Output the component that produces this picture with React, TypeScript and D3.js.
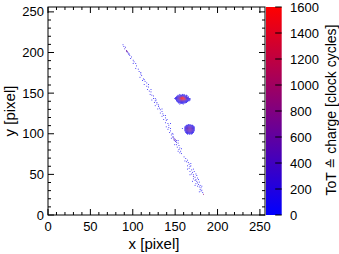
import React from "react";
import * as d3 from "d3";

const X_DOMAIN: [number, number] = [0, 256];
const Y_DOMAIN: [number, number] = [0, 256];
const Z_DOMAIN: [number, number] = [0, 1600];
const X_TICKS = [0, 50, 100, 150, 200, 250];
const Y_TICKS = [0, 50, 100, 150, 200, 250];
const Z_TICKS = [0, 200, 400, 600, 800, 1000, 1200, 1400, 1600];

// [x, y, ToT] of single hit pixels along the track
const TRACK_HITS: [number, number, number][] = [
  [88, 209, 120], [89, 207, 80], [91, 206, 150], [90, 204, 300], [92, 202, 500], [92, 201, 700],
  [93, 201, 600], [93, 200, 400], [94, 199, 200], [95, 198, 120], [96, 196, 150], [98, 194, 100],
  [97, 192, 90], [100, 190, 130], [101, 188, 80], [100, 186, 110], [104, 183, 60], [103, 180, 90],
  [106, 179, 100], [107, 176, 70], [109, 175, 80], [110, 171, 120], [108, 169, 60], [112, 167, 90],
  [114, 164, 70], [113, 160, 100], [116, 158, 130], [118, 157, 80], [117, 154, 60], [119, 152, 150],
  [121, 151, 90], [120, 148, 70], [122, 147, 110], [124, 146, 140], [124, 143, 90], [122, 141, 60],
  [126, 140, 120], [125, 138, 80], [128, 138, 100], [128, 136, 150], [126, 134, 70], [130, 133, 110],
  [131, 131, 90], [129, 130, 60], [132, 129, 130], [134, 127, 80], [132, 125, 100], [135, 124, 70],
  [136, 122, 120], [134, 121, 90], [138, 119, 60], [136, 117, 140], [139, 116, 80], [138, 113, 100],
  [141, 112, 70], [139, 108, 90], [142, 107, 130], [141, 105, 80], [144, 103, 100], [143, 101, 60],
  [146, 100, 120], [145, 98, 150], [147, 96, 90], [147, 95, 250], [148, 94, 300], [148, 92, 400],
  [149, 93, 350], [149, 91, 280], [150, 92, 450], [150, 90, 200], [151, 89, 150], [151, 91, 220],
  [153, 88, 100], [151, 86, 130], [154, 85, 90], [152, 83, 110], [155, 82, 70], [154, 80, 140],
  [156, 78, 80], [155, 76, 100], [157, 75, 60],
  [162, 69, 80], [164, 67, 100], [163, 65, 120], [165, 64, 90], [166, 62, 150], [164, 60, 70],
  [167, 59, 110], [166, 57, 90], [169, 55, 130], [167, 53, 80], [170, 52, 100], [169, 50, 200],
  [171, 49, 150], [171, 47, 250], [173, 46, 180], [171, 44, 120], [174, 43, 90], [173, 42, 160],
  [175, 41, 110], [176, 39, 140], [174, 38, 90], [177, 37, 120], [176, 35, 100], [178, 34, 80],
  [180, 33, 130], [179, 31, 90], [181, 30, 110], [180, 29, 70], [182, 27, 60], [183, 25, 900],
  [95, 197, 60], [103, 186, 70], [109, 173, 50], [113, 166, 60], [118, 160, 40], [121, 154, 50],
  [126, 143, 60], [130, 135, 50], [134, 130, 40], [138, 122, 60], [142, 110, 50], [144, 106, 40],
  [147, 99, 70], [145, 94, 60], [153, 91, 80], [149, 86, 60], [157, 81, 50], [153, 78, 40],
  [160, 71, 50], [161, 66, 60], [168, 63, 40], [164, 56, 50], [171, 56, 60], [167, 49, 40],
  [174, 50, 50], [170, 41, 60], [176, 45, 40], [178, 40, 50], [173, 36, 60], [181, 35, 40],
  [178, 28, 50], [158, 106, 40], [144, 112, 30], [111, 165, 50], [127, 141, 40], [140, 117, 50],
  [168, 60, 60], [172, 53, 50], [175, 48, 40], [177, 43, 60], [179, 36, 50], [116, 162, 40],
];

// ToT value for each digit level in the cluster maps
const LEVELS = [0, 120, 250, 380, 520, 680, 850, 1050, 1280, 1500];

// cluster maps: origin = [x of first column, y of first row], rows go downwards in y
const CLUSTER_A_ORIGIN: [number, number] = [149, 148];
const CLUSTER_A_ROWS = [
  "......1..1.1........",
  "....1.1111111.1.....",
  "...1122222221211....",
  "..1223345664322.1...",
  ".1123457899753221...",
  "1122346899997532211.",
  ".122345789998642211.",
  "..12234567765432111.",
  "..1122334443322111..",
  "...1122232222111....",
  "....11121111211.....",
  ".....1.1111.1.......",
  "......1...1.........",
];

const CLUSTER_B_ORIGIN: [number, number] = [161, 111];
const CLUSTER_B_ROWS = [
  "....1.1.....",
  "..11111111..",
  ".1122222211.",
  "112233332211",
  "122334433221",
  "123344443321",
  "123344443321",
  "123344443321",
  "122334433221",
  ".1223333221.",
  ".1122222211.",
  "..11111111..",
  "...1.11.1...",
];

const FONT = "'Liberation Sans', Arial, Helvetica, sans-serif";

function gridHits(origin: [number, number], rows: string[]): [number, number, number][] {
  const out: [number, number, number][] = [];
  rows.forEach((row, i) => {
    for (let j = 0; j < row.length; j++) {
      const c = row[j];
      if (c !== "." && c !== " ") out.push([origin[0] + j, origin[1] - i, LEVELS[+c]]);
    }
  });
  return out;
}

export default function App() {
  const W = 339, H = 254;
  const x = d3.scaleLinear().domain(X_DOMAIN).range([48, 265]);
  const y = d3.scaleLinear().domain(Y_DOMAIN).range([215, 7]);
  const z = d3.scaleLinear().domain(Z_DOMAIN).range([215, 7]);
  const color = d3.scaleLinear<string>().domain(Z_DOMAIN).range(["rgb(0,0,255)", "rgb(255,0,0)"]).interpolate(d3.interpolateRgb).clamp(true);

  const hits = [...TRACK_HITS, ...gridHits(CLUSTER_A_ORIGIN, CLUSTER_A_ROWS), ...gridHits(CLUSTER_B_ORIGIN, CLUSTER_B_ROWS)];

  const [x0, x1] = x.range();
  const [y0, y1] = y.range();
  const minor = d3.range(0, 257, 10).filter((v) => v % 50 !== 0);
  const MAJ = 6, MIN = 3;
  const cbL = 266, cbR = 281.7;

  return (
    <svg width={W} height={H} style={{ position: "absolute", left: 0, top: 0, background: "#fff" }} fontFamily={FONT}>
      <defs>
        <linearGradient id="zgrad" x1="0" y1="1" x2="0" y2="0">
          <stop offset="0" stopColor={color(Z_DOMAIN[0])} />
          <stop offset="0.5" stopColor={color((Z_DOMAIN[0] + Z_DOMAIN[1]) / 2)} />
          <stop offset="1" stopColor={color(Z_DOMAIN[1])} />
        </linearGradient>
      </defs>
      <rect width={W} height={H} fill="#fff" />
      {/* hits */}
      <g>
        {hits.map(([hx, hy, t], i) => (
          <rect key={i} x={x(hx)} y={y(hy + 1)} width={x(hx + 1) - x(hx)} height={y(hy) - y(hy + 1)} fill={color(t)} />
        ))}
      </g>
      {/* frame */}
      <rect x={x0} y={y1} width={x1 - x0} height={y0 - y1} fill="none" stroke="#000" strokeWidth={1} />
      {/* ticks */}
      <g stroke="#000" strokeWidth={1}>
        {X_TICKS.map((v) => (
          <g key={"xt" + v}>
            <line x1={x(v)} x2={x(v)} y1={y0} y2={y0 - MAJ} />
            <line x1={x(v)} x2={x(v)} y1={y1} y2={y1 + MAJ} />
          </g>
        ))}
        {minor.map((v) => (
          <g key={"xm" + v}>
            <line x1={x(v)} x2={x(v)} y1={y0} y2={y0 - MIN} />
            <line x1={x(v)} x2={x(v)} y1={y1} y2={y1 + MIN} />
            <line x1={x0} x2={x0 + MIN} y1={y(v)} y2={y(v)} />
            <line x1={x1} x2={x1 - MIN} y1={y(v)} y2={y(v)} />
          </g>
        ))}
        {Y_TICKS.map((v) => (
          <g key={"yt" + v}>
            <line x1={x0} x2={x0 + MAJ} y1={y(v)} y2={y(v)} />
            <line x1={x1} x2={x1 - MAJ} y1={y(v)} y2={y(v)} />
          </g>
        ))}
      </g>
      {/* tick labels */}
      <g fontSize={13} fill="#000">
        {X_TICKS.map((v) => (
          <text key={"xl" + v} x={x(v)} y={231} textAnchor="middle">{v}</text>
        ))}
        {Y_TICKS.map((v) => (
          <text key={"yl" + v} x={44} y={y(v)} textAnchor="end" dominantBaseline="central">{v}</text>
        ))}
      </g>
      <text x={154} y={249} textAnchor="middle" fontSize={15}>x [pixel]</text>
      <text transform={`translate(15,111) rotate(-90)`} textAnchor="middle" fontSize={15}>y [pixel]</text>
      {/* colour bar */}
      <rect x={cbL} y={z(Z_DOMAIN[1])} width={cbR - cbL} height={z(Z_DOMAIN[0]) - z(Z_DOMAIN[1])} fill="url(#zgrad)" />
      <g stroke="#000" strokeWidth={1}>
        {Z_TICKS.map((v) => (
          <line key={"zt" + v} x1={cbR - 6.5} x2={cbR} y1={z(v)} y2={z(v)} />
        ))}
      </g>
      <g fontSize={13}>
        {Z_TICKS.map((v) => (
          <text key={"zl" + v} x={290} y={z(v)} dominantBaseline="central">{v}</text>
        ))}
      </g>
      <text transform={`translate(336,110) rotate(-90)`} textAnchor="middle" fontSize={14}>
        ToT <tspan fontFamily="'DejaVu Sans', sans-serif" fontSize={13}>≙</tspan> charge [clock cycles]
      </text>
    </svg>
  );
}
